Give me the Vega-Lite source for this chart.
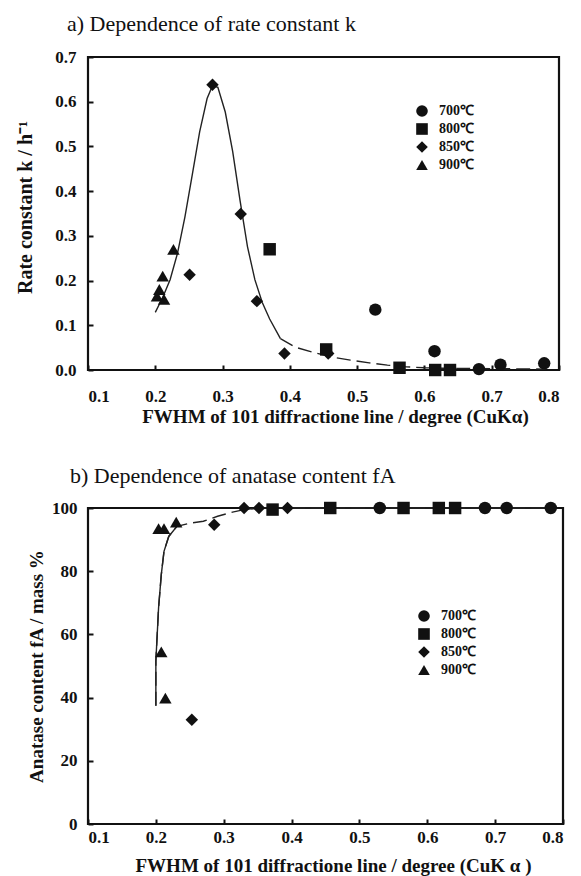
{
  "$schema": "https://vega.github.io/schema/vega-lite/v6.json",
  "background": "white",
  "padding": {"left": 14, "top": 11, "right": 5, "bottom": 0},
  "spacing": 35,
  "config": {
    "font": "Liberation Serif",
    "view": {"stroke": "#111", "strokeWidth": 2.2},
    "axis": {
      "grid": false,
      "domain": false,
      "tickColor": "#111",
      "tickWidth": 2,
      "tickSize": -5,
      "labelFont": "Liberation Serif",
      "labelFontWeight": "bold",
      "labelFontSize": 17,
      "labelColor": "#111",
      "titleFont": "Liberation Serif",
      "titleFontWeight": "bold",
      "titleFontSize": 19,
      "titleColor": "#111"
    },
    "legend": {
      "labelFont": "Liberation Serif",
      "labelFontWeight": "bold",
      "labelFontSize": 14,
      "labelColor": "#111",
      "labelOffset": 10,
      "rowPadding": 4,
      "symbolFillColor": "#111",
      "symbolStrokeWidth": 0
    },
    "title": {
      "font": "Liberation Serif",
      "fontSize": 22,
      "fontWeight": "normal",
      "color": "#111",
      "anchor": "start",
      "frame": "group"
    }
  },
  "datasets": {
    "ka": [
      {"fwhm": 0.285, "val": 0.638, "temp": "850℃"},
      {"fwhm": 0.327, "val": 0.349, "temp": "850℃"},
      {"fwhm": 0.251, "val": 0.213, "temp": "850℃"},
      {"fwhm": 0.351, "val": 0.154, "temp": "850℃"},
      {"fwhm": 0.392, "val": 0.037, "temp": "850℃"},
      {"fwhm": 0.457, "val": 0.037, "temp": "850℃"},
      {"fwhm": 0.370, "val": 0.270, "temp": "800℃"},
      {"fwhm": 0.454, "val": 0.046, "temp": "800℃"},
      {"fwhm": 0.563, "val": 0.005, "temp": "800℃"},
      {"fwhm": 0.616, "val": 0.000, "temp": "800℃"},
      {"fwhm": 0.638, "val": 0.000, "temp": "800℃"},
      {"fwhm": 0.527, "val": 0.135, "temp": "700℃"},
      {"fwhm": 0.615, "val": 0.042, "temp": "700℃"},
      {"fwhm": 0.681, "val": 0.002, "temp": "700℃"},
      {"fwhm": 0.713, "val": 0.012, "temp": "700℃"},
      {"fwhm": 0.778, "val": 0.015, "temp": "700℃"},
      {"fwhm": 0.227, "val": 0.270, "temp": "900℃"},
      {"fwhm": 0.211, "val": 0.210, "temp": "900℃"},
      {"fwhm": 0.206, "val": 0.180, "temp": "900℃"},
      {"fwhm": 0.2025, "val": 0.165, "temp": "900℃"},
      {"fwhm": 0.213, "val": 0.158, "temp": "900℃"}
    ],
    "kcurve": [
      {"fwhm": 0.200, "val": 0.129},
      {"fwhm": 0.211, "val": 0.162},
      {"fwhm": 0.222, "val": 0.202},
      {"fwhm": 0.233, "val": 0.261},
      {"fwhm": 0.244, "val": 0.342},
      {"fwhm": 0.255, "val": 0.437},
      {"fwhm": 0.266, "val": 0.533},
      {"fwhm": 0.277, "val": 0.607},
      {"fwhm": 0.285, "val": 0.636},
      {"fwhm": 0.293, "val": 0.632},
      {"fwhm": 0.304, "val": 0.577},
      {"fwhm": 0.315, "val": 0.489},
      {"fwhm": 0.326, "val": 0.379},
      {"fwhm": 0.337, "val": 0.276},
      {"fwhm": 0.348, "val": 0.202},
      {"fwhm": 0.359, "val": 0.151},
      {"fwhm": 0.370, "val": 0.114},
      {"fwhm": 0.386, "val": 0.070},
      {"fwhm": 0.408, "val": 0.051},
      {"fwhm": 0.436, "val": 0.039},
      {"fwhm": 0.463, "val": 0.029},
      {"fwhm": 0.490, "val": 0.022},
      {"fwhm": 0.518, "val": 0.016},
      {"fwhm": 0.545, "val": 0.011},
      {"fwhm": 0.573, "val": 0.007},
      {"fwhm": 0.600, "val": 0.005},
      {"fwhm": 0.627, "val": 0.004},
      {"fwhm": 0.700, "val": 0.003},
      {"fwhm": 0.780, "val": 0.002}
    ],
    "fa": [
      {"fwhm": 0.204, "val": 93.5, "temp": "900℃"},
      {"fwhm": 0.212, "val": 93.5, "temp": "900℃"},
      {"fwhm": 0.230, "val": 95.5, "temp": "900℃"},
      {"fwhm": 0.208, "val": 54.5, "temp": "900℃"},
      {"fwhm": 0.214, "val": 39.8, "temp": "900℃"},
      {"fwhm": 0.286, "val": 94.7, "temp": "850℃"},
      {"fwhm": 0.253, "val": 33.0, "temp": "850℃"},
      {"fwhm": 0.330, "val": 100, "temp": "850℃"},
      {"fwhm": 0.352, "val": 100, "temp": "850℃"},
      {"fwhm": 0.394, "val": 100, "temp": "850℃"},
      {"fwhm": 0.372, "val": 99.5, "temp": "800℃"},
      {"fwhm": 0.457, "val": 100, "temp": "800℃"},
      {"fwhm": 0.565, "val": 100, "temp": "800℃"},
      {"fwhm": 0.617, "val": 100, "temp": "800℃"},
      {"fwhm": 0.641, "val": 100, "temp": "800℃"},
      {"fwhm": 0.530, "val": 100, "temp": "700℃"},
      {"fwhm": 0.685, "val": 100, "temp": "700℃"},
      {"fwhm": 0.717, "val": 100, "temp": "700℃"},
      {"fwhm": 0.782, "val": 100, "temp": "700℃"}
    ],
    "facurve": [
      {"fwhm": 0.200, "val": 37.4},
      {"fwhm": 0.200, "val": 51.6},
      {"fwhm": 0.2015, "val": 57.9},
      {"fwhm": 0.204, "val": 68.4},
      {"fwhm": 0.208, "val": 78.9},
      {"fwhm": 0.212, "val": 86.3},
      {"fwhm": 0.219, "val": 91.0},
      {"fwhm": 0.231, "val": 94.2},
      {"fwhm": 0.250, "val": 95.2},
      {"fwhm": 0.270, "val": 95.8},
      {"fwhm": 0.291, "val": 97.4},
      {"fwhm": 0.313, "val": 98.7},
      {"fwhm": 0.330, "val": 99.5},
      {"fwhm": 0.350, "val": 100},
      {"fwhm": 0.790, "val": 100}
    ]
  },
  "vconcat": [
    {
      "width": 471,
      "height": 313,
      "title": {"text": "a) Dependence of rate constant k", "dx": -21, "offset": 12},
      "layer": [
        {
          "data": {"name": "kcurve"},
          "transform": [{"filter": "datum.fwhm <= 0.386"}],
          "mark": {"type": "line", "color": "#222", "strokeWidth": 1.4},
          "encoding": {
            "x": {"field": "fwhm", "type": "quantitative"},
            "y": {"field": "val", "type": "quantitative"}
          }
        },
        {
          "data": {"name": "kcurve"},
          "transform": [{"filter": "datum.fwhm >= 0.386"}],
          "mark": {"type": "line", "color": "#222", "strokeWidth": 1.4, "strokeDash": [14, 6]},
          "encoding": {
            "x": {"field": "fwhm", "type": "quantitative"},
            "y": {"field": "val", "type": "quantitative"}
          }
        },
        {
          "data": {"name": "ka"},
          "mark": {"type": "point", "filled": true, "opacity": 1, "size": 155, "color": "#111"},
          "encoding": {
            "x": {
              "field": "fwhm", "type": "quantitative",
              "scale": {"domain": [0.1, 0.8], "nice": false},
              "axis": {"values": [0.1, 0.2, 0.3, 0.4, 0.5, 0.6, 0.7, 0.8], "format": ".1f", "labelPadding": 23, "titlePadding": 3, "titleX": 247, "title": "FWHM of 101 diffractione line / degree (CuKα)"}
            },
            "y": {
              "field": "val", "type": "quantitative",
              "scale": {"domain": [0, 0.7], "nice": false},
              "axis": {"values": [0, 0.1, 0.2, 0.3, 0.4, 0.5, 0.6, 0.7], "format": ".1f", "labelPadding": 17, "titlePadding": 19, "titleFontSize": 20, "titleY": 150, "title": "Rate constant k / h⁻¹"}
            },
            "shape": {
              "field": "temp", "type": "nominal",
              "scale": {"domain": ["700℃", "800℃", "850℃", "900℃"], "range": ["circle", "square", "diamond", "triangle-up"]},
              "legend": {"title": null, "orient": "none", "legendX": 327, "legendY": 47, "symbolSize": 135}
            }
          }
        }
      ]
    },
    {
      "width": 475,
      "height": 316,
      "title": {"text": "b) Dependence of anatase content fA", "dx": -18, "offset": 11},
      "layer": [
        {
          "data": {"name": "facurve"},
          "mark": {"type": "line", "color": "#222", "strokeWidth": 1.4, "strokeDash": [14, 6]},
          "encoding": {
            "x": {"field": "fwhm", "type": "quantitative"},
            "y": {"field": "val", "type": "quantitative"}
          }
        },
        {
          "data": {"name": "facurve"},
          "transform": [{"filter": "datum.fwhm <= 0.231"}],
          "mark": {"type": "line", "color": "#222", "strokeWidth": 1.4},
          "encoding": {
            "x": {"field": "fwhm", "type": "quantitative"},
            "y": {"field": "val", "type": "quantitative"}
          }
        },
        {
          "data": {"name": "facurve"},
          "transform": [{"filter": "datum.fwhm >= 0.33"}],
          "mark": {"type": "line", "color": "#222", "strokeWidth": 1.6},
          "encoding": {
            "x": {"field": "fwhm", "type": "quantitative"},
            "y": {"field": "val", "type": "quantitative"}
          }
        },
        {
          "data": {"name": "fa"},
          "mark": {"type": "point", "filled": true, "opacity": 1, "size": 155, "color": "#111"},
          "encoding": {
            "x": {
              "field": "fwhm", "type": "quantitative",
              "scale": {"domain": [0.1, 0.8], "nice": false},
              "axis": {"values": [0.1, 0.2, 0.3, 0.4, 0.5, 0.6, 0.7, 0.8], "format": ".1f", "labelPadding": 10, "titlePadding": 11, "titleX": 245, "title": "FWHM of 101 diffractione line / degree (CuK α )"}
            },
            "y": {
              "field": "val", "type": "quantitative",
              "scale": {"domain": [0, 100], "nice": false},
              "axis": {"values": [0, 20, 40, 60, 80, 100], "labelPadding": 16, "titlePadding": 5, "title": "Anatase content fA / mass %"}
            },
            "shape": {
              "field": "temp", "type": "nominal",
              "scale": {"domain": ["700℃", "800℃", "850℃", "900℃"], "range": ["circle", "square", "diamond", "triangle-up"]},
              "legend": {"title": null, "orient": "none", "legendX": 329, "legendY": 101, "symbolSize": 135}
            }
          }
        }
      ]
    }
  ],
  "resolve": {"legend": {"shape": "independent"}}
}
